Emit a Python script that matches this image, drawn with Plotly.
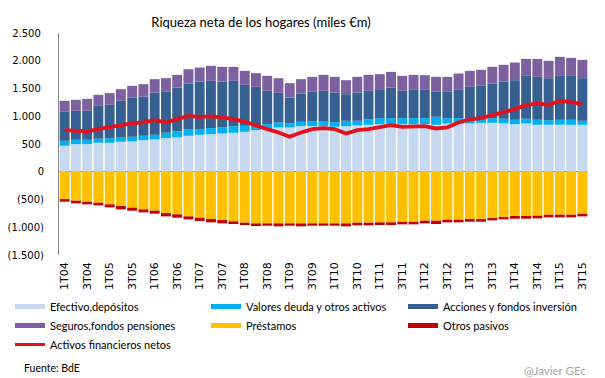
import plotly.graph_objects as go

quarters = [f"{q}T{str(y)[2:]}" for y in range(2004, 2016) for q in (1, 2, 3, 4)][:47]
tick_labels = quarters[::2]

efectivo = [468, 498, 498, 522, 522, 540, 546, 570, 582, 606, 618, 648,
            666, 678, 690, 702, 720, 750, 768, 798, 798, 822, 822, 822, 810, 822, 834, 846, 858,
            858, 858, 858, 858, 846, 870, 870, 870, 882, 882, 870, 858, 870, 846, 846, 846, 846, 846]
valores = [90, 78, 78, 72, 84, 84, 84, 78, 84, 96, 108, 120,
           102, 108, 108, 120, 108, 90, 90, 90, 72, 78, 84, 84, 84, 96, 84, 96, 108,
           108, 108, 108, 108, 144, 96, 96, 96, 84, 84, 84, 78, 84, 90, 84, 90, 90, 72]
acciones = [522, 522, 522, 594, 600, 654, 708, 708, 762, 738, 792, 822,
            858, 852, 828, 816, 738, 690, 600, 534, 468, 510, 534, 552, 534, 480, 510, 516, 522,
            552, 492, 510, 510, 450, 474, 510, 564, 582, 624, 672, 714, 774, 774, 756, 792, 792, 768]
seguros = [198, 198, 216, 198, 210, 210, 210, 222, 240, 246, 228, 258,
           252, 270, 264, 252, 252, 246, 270, 264, 258, 258, 270, 288, 282, 252, 282, 288, 270,
           282, 270, 270, 264, 270, 270, 294, 288, 288, 300, 300, 318, 306, 324, 312, 342, 324, 330]
prestamos = [-492, -522, -540, -558, -588, -618, -648, -678, -702, -744,
             -768, -804, -828, -852, -870, -894, -918, -930, -930, -930,
             -930, -930, -930, -930, -930, -930, -918, -918, -912, -912,
             -900, -900, -882, -882, -864, -864, -852, -852, -834, -816,
             -810, -810, -792, -774, -774, -774, -756]
otros = [-48, -48, -48, -48, -54, -60, -54, -54, -54, -60,
         -60, -54, -60, -60, -60, -48, -42, -48, -42, -54,
         -42, -54, -42, -42, -42, -54, -48, -48, -48, -48,
         -48, -48, -48, -60, -48, -48, -48, -48, -42, -42,
         -36, -36, -48, -48, -48, -48, -48]
netos = [750, 738, 726, 768, 810, 840, 870, 888, 930, 888, 948, 1008,
         990, 996, 978, 948, 900, 828, 768, 708, 630, 708, 768, 786, 768, 690, 750, 768, 810,
         840, 810, 822, 822, 780, 798, 888, 942, 966, 1020, 1080, 1128, 1200, 1230, 1206, 1278, 1254, 1218]

y_ticks = [-1500, -1000, -500, 0, 500, 1000, 1500, 2000, 2500]
y_ticktext = ["(1.500)", "(1.000)", "(500)", "0", "500\u00a0", "1.000\u00a0", "1.500\u00a0", "2.000\u00a0", "2.500\u00a0"]

# (name, values, colour, legend column)
series = [
    ("Efectivo,depósitos", efectivo, "#C6D9F1", "legend"),
    ("Valores deuda y otros activos", valores, "#00B0F0", "legend2"),
    ("Acciones y fondos inversión", acciones, "#376092", "legend3"),
    ("Seguros,fondos pensiones", seguros, "#7D60A0", "legend"),
    ("Préstamos", prestamos, "#FFC000", "legend2"),
    ("Otros pasivos", otros, "#C00000", "legend3"),
]
line_name = "Activos financieros netos"
line_color = "#E3111B"

fig = go.Figure()
for name, vals, col, lg in series:
    fig.add_trace(go.Bar(x=quarters, y=vals, name=name, marker=dict(color=col, line=dict(width=0)),
                         showlegend=False, legendgroup=name))
fig.add_trace(go.Scatter(x=quarters, y=netos, mode="lines", name=line_name,
                         line=dict(color=line_color, width=3.8), showlegend=False))

# legend entries (bar-like swatches)
for name, vals, col, lg in series:
    fig.add_trace(go.Scatter(x=[None], y=[None], mode="lines", name=name, legendgroup=name,
                             legend=lg, line=dict(color=col, width=5), showlegend=True))
fig.add_trace(go.Scatter(x=[None], y=[None], mode="lines", name=line_name, legend="legend",
                         line=dict(color=line_color, width=3), showlegend=True))

leg_common = dict(orientation="v", xanchor="left", y=-0.1667, yanchor="top",
                  traceorder="normal", tracegroupgap=0,
                  font=dict(family="Lato", size=11, color="#000000"), bgcolor="rgba(0,0,0,0)")

# page body has an 8px offset, so positions are set 8px up/left
fig.update_layout(
    width=605, height=378,
    margin=dict(l=51, r=25, t=25, b=131, autoexpand=False),
    barmode="relative", bargap=0.12,
    plot_bgcolor="white", paper_bgcolor="white",
    title=dict(text="Riqueza neta de los hogares (miles €m)", x=253 / 605, xanchor="center",
               y=1 - 14 / 378, yanchor="middle", font=dict(family="Lato", size=13, color="#000000")),
    legend=dict(x=(2 - 51) / 529, **leg_common),
    legend2=dict(x=(198 - 51) / 529, **leg_common),
    legend3=dict(x=(395 - 51) / 529, **leg_common),
    showlegend=True,
)
fig.add_annotation(text="Fuente: BdE", xref="paper", yref="paper",
                   x=(22 - 59) / 528, y=(255 - 368) / 222, xanchor="left", yanchor="middle",
                   showarrow=False, font=dict(family="Lato", size=10.5, color="#000000"))
fig.add_annotation(text="@Javier GEc", xref="paper", yref="paper",
                   x=(587 - 59) / 528, y=(255 - 370) / 222, xanchor="right", yanchor="middle",
                   showarrow=False, font=dict(family="Lato", size=11.5, color="#A6A6A6"))

fig.update_xaxes(type="category", categoryorder="array", categoryarray=quarters,
                 tickvals=tick_labels, ticktext=tick_labels, tickangle=-90,
                 range=[-0.5, len(quarters) - 0.5],
                 showgrid=False, showline=False, zeroline=False, ticks="",
                 ticklabelstandoff=4,
                 tickfont=dict(family="DejaVu Sans", size=11, color="#000000"))
fig.update_yaxes(range=[-1500, 2500], tickvals=y_ticks, ticktext=y_ticktext,
                 showgrid=False, showline=True, linecolor="#868686", linewidth=1,
                 zeroline=True, zerolinecolor="#868686", zerolinewidth=1, ticks="",
                 ticklabelstandoff=12,
                 tickfont=dict(family="DejaVu Sans", size=10, color="#000000"))

fig.write_html("out.html")
